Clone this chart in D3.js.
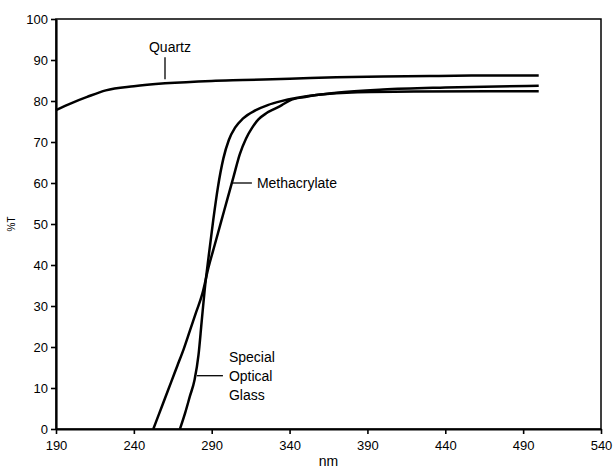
<!DOCTYPE html>
<html>
<head>
<meta charset="utf-8">
<script src="https://cdn.jsdelivr.net/npm/d3@7"></script>
<style>
  body { margin: 0; background: #fff; }
  svg text { font-family: "Liberation Sans", Arial, sans-serif; fill: #000; }
</style>
</head>
<body>
<div id="chart"></div>
<script>
// transmission curves (nm, %T)
var quartzNm = [190, 200, 210, 222, 240, 260, 290, 310, 340, 370, 400, 430, 460, 500];
var quartzT  = [77.8, 79.5, 81, 82.6, 83.6, 84.3, 84.9, 85.1, 85.4, 85.8, 86.0, 86.1, 86.2, 86.2];

var methNm = [252.5, 256, 260, 264, 268, 272, 276, 280, 284, 288, 292, 296, 300, 304, 308, 312, 316, 320, 325, 330, 335, 340, 350, 370, 400, 440, 500];
var methT  = [0, 3.5, 7.5, 11.5, 15.5, 19.5, 24, 28.5, 33, 39.5, 45, 50.5, 56, 61.5, 67, 70.8, 73.5, 75.5, 77, 78, 79, 80.1, 81, 82, 82.8, 83.3, 83.7];

var glassNm = [269.6, 273, 276, 279, 281.5, 283.5, 285.5, 288, 291, 294, 297.5, 301, 305, 310, 318, 326, 334, 345, 360, 380, 420, 500];
var glassT  = [0, 4, 8, 12, 18, 26, 34, 42, 51, 59, 66, 70.5, 73.5, 75.7, 77.7, 79, 79.9, 80.8, 81.6, 82.1, 82.3, 82.4];

var xTicks = [190, 240, 290, 340, 390, 440, 490, 540];
var yTicks = [0, 10, 20, 30, 40, 50, 60, 70, 80, 90, 100];

var margin = {top: 19, right: 12, bottom: 39, left: 56},
    width = 613 - margin.left - margin.right,
    height = 468 - margin.top - margin.bottom;

var svg = d3.select("#chart").append("svg")
    .attr("width", 613)
    .attr("height", 468)
  .append("g")
    .attr("transform", "translate(" + margin.left + "," + margin.top + ")");

var x = d3.scaleLinear().domain([190, 540]).range([0, width]);
var y = d3.scaleLinear().domain([0, 100]).range([height, 0]);

// frame (top + right)
svg.append("rect")
    .attr("x", x(190)).attr("y", y(100))
    .attr("width", x(540) - x(190)).attr("height", y(0) - y(100))
    .attr("fill", "none").attr("stroke", "#000").attr("stroke-width", 1.5);

var xAxis = svg.append("g")
    .attr("transform", "translate(0," + height + ")")
    .call(d3.axisBottom(x).tickValues(xTicks).tickSize(5).tickSizeOuter(0).tickPadding(7));
var yAxis = svg.append("g")
    .call(d3.axisLeft(y).tickValues(yTicks).tickSize(5).tickSizeOuter(0).tickPadding(3));

[xAxis, yAxis].forEach(function(a) {
  a.select(".domain").attr("stroke-width", 2.2);
  a.selectAll(".tick line").attr("stroke-width", 1.6);
  a.selectAll(".tick text").attr("font-size", 13).attr("font-family", "Liberation Sans, Arial, sans-serif");
});

// axis titles
svg.append("text")
    .attr("x", width / 2).attr("y", height + 37)
    .attr("text-anchor", "middle").attr("font-size", 14)
    .text("nm");
svg.append("text")
    .attr("transform", "translate(" + (11 - margin.left) + "," + (224 - margin.top) + ") rotate(-90)")
    .attr("text-anchor", "middle").attr("dy", "0.35em").attr("font-size", 10)
    .text("%T");

var line = d3.line()
    .x(function(d) { return x(d[0]); })
    .y(function(d) { return y(d[1]); })
    .curve(d3.curveMonotoneX);

function series(nm, t) { return nm.map(function(v, i) { return [v, t[i]]; }); }

[series(quartzNm, quartzT), series(methNm, methT), series(glassNm, glassT)].forEach(function(s) {
  svg.append("path")
      .datum(s)
      .attr("d", line)
      .attr("fill", "none")
      .attr("stroke", "#000")
      .attr("stroke-width", 2.5)
      .attr("stroke-linejoin", "round");
});

// labels with leader lines
function leader(x1, y1, x2, y2) {
  svg.append("line")
      .attr("x1", x1).attr("y1", y1).attr("x2", x2).attr("y2", y2)
      .attr("stroke", "#000").attr("stroke-width", 1.3);
}

// Quartz
leader(x(260), y(84.3) - 4, x(260), y(84.3) - 26);
svg.append("text").attr("x", x(260) + 5).attr("y", y(84.3) - 31)
    .attr("text-anchor", "middle").attr("font-size", 14).text("Quartz");

// Methacrylate
leader(x(303.6), y(60), x(303.6) + 19, y(60));
svg.append("text").attr("x", x(303.6) + 24).attr("y", y(60)).attr("dy", "0.35em")
    .attr("font-size", 14).text("Methacrylate");

// Special Optical Glass
leader(x(280.5), y(13), x(280.5) + 26, y(13));
var g = svg.append("text").attr("x", x(280.5) + 32).attr("y", y(13)).attr("font-size", 14);
["Special", "Optical", "Glass"].forEach(function(t, i) {
  g.append("tspan").attr("x", x(280.5) + 32).attr("dy", i === 0 ? "-0.95em" : "1.35em").text(t);
});
</script>
</body>
</html>
